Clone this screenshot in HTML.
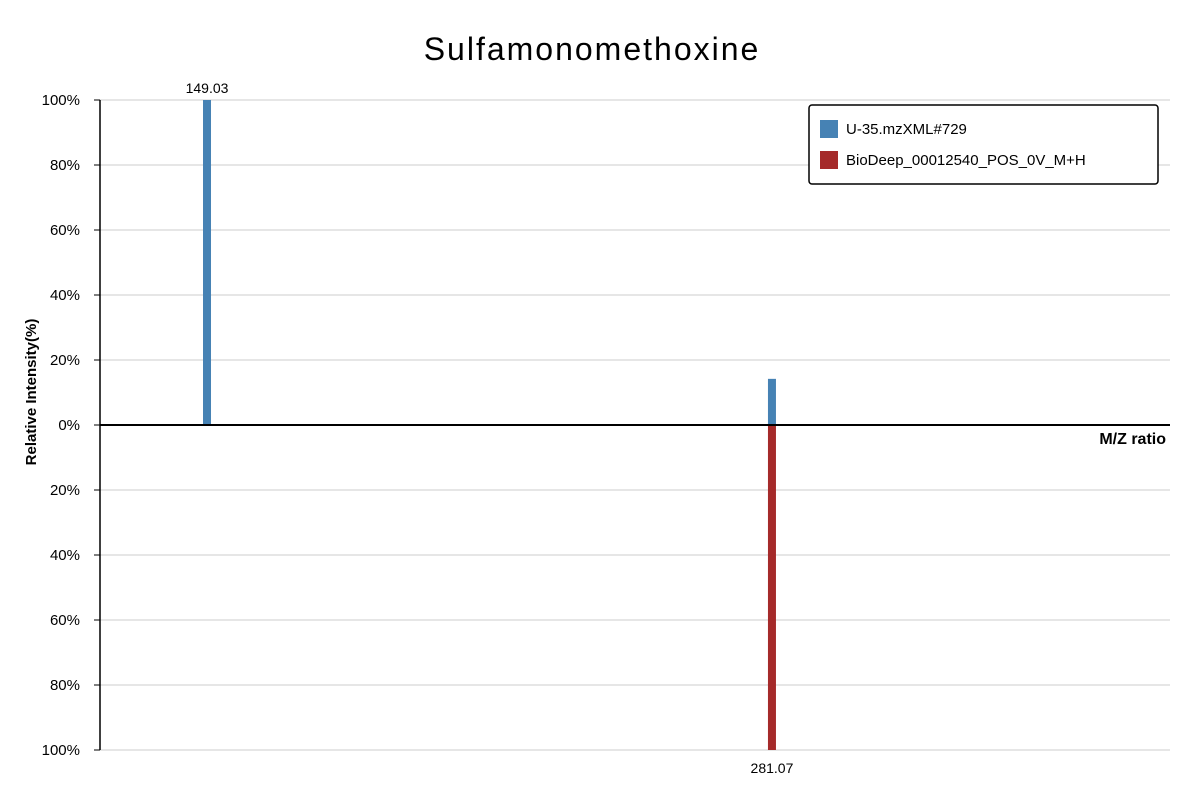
<!DOCTYPE html>
<html><head><meta charset="utf-8"><style>
body{margin:0;background:#fff;font-family:"Liberation Sans",sans-serif}
</style></head><body>
<svg id="chart" width="1200" height="800" xmlns="http://www.w3.org/2000/svg">
<text x="592" y="60" font-size="32" letter-spacing="2" text-anchor="middle">Sulfamonomethoxine</text>
<g id="grid"></g><g id="bars"></g><g id="axes"></g>
<text x="0" y="0" transform="translate(36,392) rotate(-90)" font-size="15" font-weight="bold" text-anchor="middle">Relative Intensity(%)</text>
<text x="1166" y="444" font-size="16" font-weight="bold" text-anchor="end">M/Z ratio</text>
<g>
<rect x="809" y="105" width="349" height="79" rx="3" fill="#fff" stroke="#000" stroke-width="1.5"/>
<rect x="820" y="120" width="18" height="18" fill="#4682b4"/>
<text x="846" y="134" font-size="15">U-35.mzXML#729</text>
<rect x="820" y="151" width="18" height="18" fill="#a52a2a"/>
<text x="846" y="165" font-size="15">BioDeep_00012540_POS_0V_M+H</text>
</g>
</svg>
<script>
const sampleMz=[149.03,281.07];
const sampleInt=[100,14.2];
const refMz=[281.07];
const refInt=[100];
const yTicks=[100,80,60,40,20,0,20,40,60,80,100];
const NS="http://www.w3.org/2000/svg";
const L=100,R=1170,Y0=425,H=325,mzMin=124.02,mzMax=374.1;
const x=m=>L+(m-mzMin)/(mzMax-mzMin)*(R-L);
const yUp=v=>Y0-v/100*H, yDn=v=>Y0+v/100*H;
function mk(tag,attrs,parent){const e=document.createElementNS(NS,tag);for(const k in attrs)e.setAttribute(k,attrs[k]);document.getElementById(parent).appendChild(e);return e;}
yTicks.forEach((t,i)=>{
 const yy=i<5?yUp(t):yDn(t);
 if(t!==0){const g=mk('line',{x1:L,x2:R,y1:yy,y2:yy,stroke:'#ddd','stroke-width':1.5},'grid');
 
 }
 mk('line',{x1:L-6,x2:L,y1:yy,y2:yy,stroke:'#000'},'axes');
 const tx=mk('text',{x:L-20,y:yy+5,'font-size':15,'text-anchor':'end'},'axes');
 tx.textContent=t+'%';
 
 
});
sampleMz.forEach((m,i)=>{
 const b=mk('rect',{x:x(m)-4,y:yUp(sampleInt[i]),width:8,height:Y0-yUp(sampleInt[i]),fill:'#4682b4'},'bars');
 
 
 if(sampleInt[i]>=50){const t=mk('text',{x:x(m),y:yUp(sampleInt[i])-7,'font-size':14,'text-anchor':'middle'},'bars');t.textContent=m.toFixed(2);
 
 }
});
refMz.forEach((m,i)=>{
 const b=mk('rect',{x:x(m)-4,y:Y0,width:8,height:yDn(refInt[i])-Y0,fill:'#a52a2a'},'bars');
 
 
 if(refInt[i]>=50){const t=mk('text',{x:x(m),y:yDn(refInt[i])+23,'font-size':14,'text-anchor':'middle'},'bars');t.textContent=m.toFixed(2);
 
 }
});
const ya=mk('line',{x1:L,x2:L,y1:yUp(100),y2:yDn(100),stroke:'#000','stroke-width':1.5},'axes');


const xa=mk('line',{x1:L,x2:R,y1:Y0,y2:Y0,stroke:'#000','stroke-width':2},'axes');


</script>
</body></html>
